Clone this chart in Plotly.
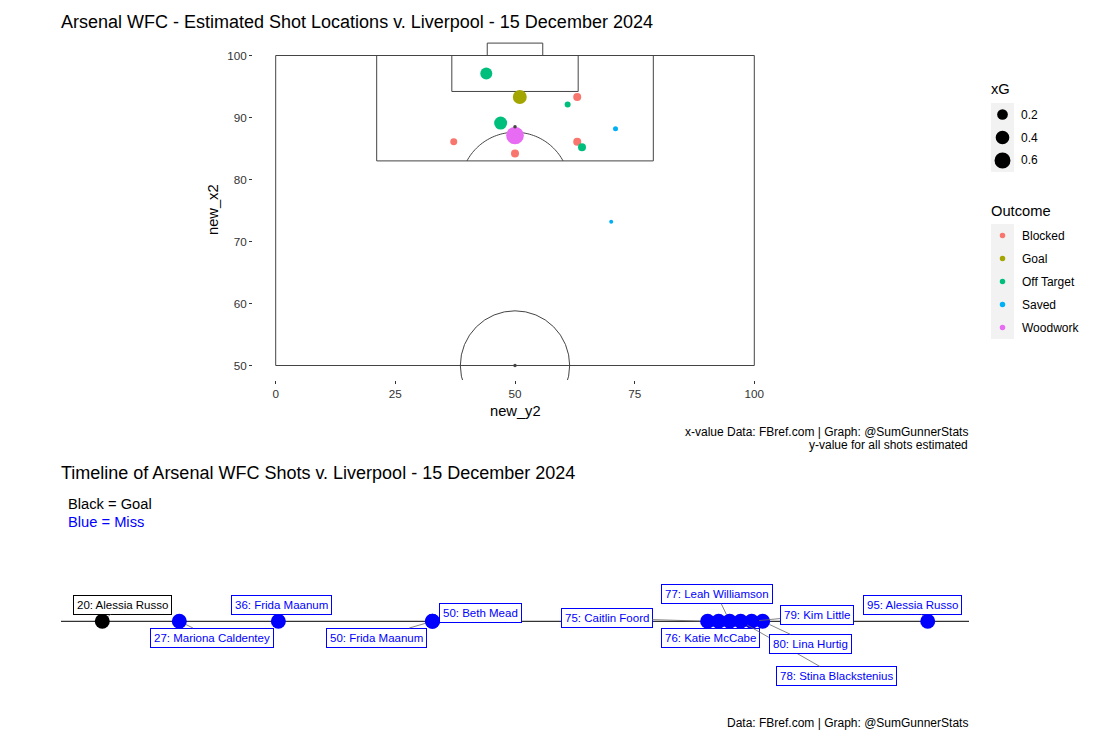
import numpy as np
import plotly.graph_objects as go

W, H = 1102, 744
FONT = "Liberation Sans"

# ---------------- data: shot map ----------------
shot_x = [44.0, 51.0, 63.0, 61.0, 47.0, 71.0, 50.0, 37.2, 63.0, 64.0, 50.0, 70.1]
shot_y = [97.1, 93.3, 93.3, 92.1, 89.1, 88.2, 87.1, 86.1, 86.1, 85.2, 84.2, 73.2]
shot_xg = [0.28, 0.42, 0.085, 0.036, 0.35, 0.024, 0.78, 0.056, 0.085, 0.085, 0.085, 0.02]
shot_outcome = ["Off Target", "Goal", "Blocked", "Off Target", "Off Target", "Saved",
                "Woodwork", "Blocked", "Blocked", "Off Target", "Blocked", "Saved"]
outcomes = ["Blocked", "Goal", "Off Target", "Saved", "Woodwork"]
outcome_colors = ["#F8766D", "#A3A500", "#00BF7D", "#00B0F6", "#E76BF3"]
xg_breaks = [0.2, 0.4, 0.6]

# ---------------- data: timeline ----------------
minutes = [20, 27, 36, 50, 50, 75, 76, 77, 78, 79, 80, 95]
players = ["Alessia Russo", "Mariona Caldentey", "Frida Maanum", "Frida Maanum", "Beth Mead",
           "Caitlin Foord", "Katie McCabe", "Leah Williamson", "Stina Blackstenius",
           "Kim Little", "Lina Hurtig", "Alessia Russo"]
results = ["Goal", "Miss", "Miss", "Miss", "Miss", "Miss", "Miss", "Miss", "Miss",
           "Miss", "Miss", "Miss"]
result_colors = {"Goal": "black", "Miss": "blue"}

# label placement (pixel offsets from each point, repel-like layout)
label_dx = [20, 33, 3, -56, 48, -101, -8, -13, 96, 65, 48, -15]
label_dy = [-16.5, 16.2, -16.8, 16.2, -8.8, -3.1, 16.5, -27.3, 54.7, -6.3, 22.5, -16.5]


def px_x(p):
    return p / W


def px_y(p):
    return 1 - p / H


def xg_size(v):
    return 4 + 15.7 * np.sqrt(max(v - 0.02, 0.0))


fig = go.Figure()

# ---------------- shot map traces ----------------
for oc, col in zip(outcomes, outcome_colors):
    idx = [i for i, o in enumerate(shot_outcome) if o == oc]
    fig.add_trace(go.Scatter(
        x=[shot_x[i] for i in idx], y=[shot_y[i] for i in idx],
        mode="markers", name=oc, showlegend=False,
        marker=dict(color=col, size=[xg_size(shot_xg[i]) for i in idx], opacity=1,
                    line=dict(width=0)),
        xaxis="x", yaxis="y", hoverinfo="x+y+name"))

# pitch spots
fig.add_trace(go.Scatter(x=[50, 50], y=[88.5, 50], mode="markers", showlegend=False,
                         marker=dict(color="#444444", size=3.5, opacity=1), xaxis="x", yaxis="y",
                         hoverinfo="skip"))

LC = "#444444"
shapes = []
# pitch outline & boxes
for (x0, x1, y0, y1) in [(0, 100, 50, 100), (21.1, 78.9, 83, 100),
                         (36.8, 63.2, 94.2, 100), (44.2, 55.8, 100, 102)]:
    shapes.append(dict(type="rect", xref="x", yref="y", x0=x0, x1=x1, y0=y0, y1=y1,
                       line=dict(color=LC, width=1), fillcolor="rgba(0,0,0,0)", layer="below"))
# centre circle (round on screen)
rx, ry = 11.42, 8.82
shapes.append(dict(type="circle", xref="x", yref="y", x0=50 - rx, x1=50 + rx,
                   y0=50 - ry, y1=50 + ry, line=dict(color=LC, width=1), layer="below"))
# penalty arc
arc_cy = 78.8
th0 = np.arcsin((83 - arc_cy) / ry)
th = np.linspace(th0, np.pi - th0, 60)
ax_ = 50 + rx * np.cos(th)
ay_ = arc_cy + ry * np.sin(th)
path = "M " + " L ".join(f"{a:.3f},{b:.3f}" for a, b in zip(ax_, ay_))
shapes.append(dict(type="path", xref="x", yref="y", path=path,
                   line=dict(color=LC, width=1), layer="below"))

# ---------------- timeline ----------------
for res in ["Goal", "Miss"]:
    idx = [i for i, r in enumerate(results) if r == res]
    fig.add_trace(go.Scatter(
        x=[minutes[i] for i in idx], y=[0] * len(idx), mode="markers", showlegend=False,
        marker=dict(color=result_colors[res], size=15, opacity=1, line=dict(width=0)),
        xaxis="x2", yaxis="y2", text=[players[i] for i in idx], hoverinfo="x+text"))

shapes.append(dict(type="line", xref="x2 domain", yref="y2", x0=0, x1=1, y0=0, y1=0,
                   line=dict(color="black", width=1), layer="below"))

annotations = []
for i, (m, p, r) in enumerate(zip(minutes, players, results)):
    col = result_colors[r]
    annotations.append(dict(
        x=m, y=0, xref="x2", yref="y2", text=f"{m}: {p}", showarrow=True,
        ax=label_dx[i], ay=label_dy[i], axref="pixel", ayref="pixel",
        arrowhead=0, arrowwidth=0.8, arrowcolor="#666666", standoff=7.5,
        bgcolor="white", bordercolor=col, borderwidth=1, borderpad=3,
        font=dict(family=FONT, size=11.5, color=col)))

# ---------------- manual legends ----------------
LEG_X0, LEG_X1 = 991, 1014
annotations.append(dict(x=px_x(989), y=px_y(89), xref="paper", yref="paper", text="xG",
                        showarrow=False, xanchor="left", yanchor="middle",
                        font=dict(family=FONT, size=14.7, color="black")))
shapes.append(dict(type="rect", xref="paper", yref="paper", x0=px_x(LEG_X0), x1=px_x(LEG_X1),
                   y0=px_y(103), y1=px_y(172), fillcolor="#F2F2F2", line=dict(width=0),
                   layer="below"))
for k, v in enumerate(xg_breaks):
    cy = 114.5 + 23 * k
    d = xg_size(v)
    cx = (LEG_X0 + LEG_X1) / 2
    shapes.append(dict(type="circle", xref="paper", yref="paper",
                       x0=px_x(cx - d / 2), x1=px_x(cx + d / 2),
                       y0=px_y(cy + d / 2), y1=px_y(cy - d / 2),
                       fillcolor="black", line=dict(width=0)))
    annotations.append(dict(x=px_x(1019), y=px_y(cy), xref="paper", yref="paper", text=f"{v}",
                            showarrow=False, xanchor="left", yanchor="middle",
                            font=dict(family=FONT, size=12, color="black")))

annotations.append(dict(x=px_x(989), y=px_y(211), xref="paper", yref="paper", text="Outcome",
                        showarrow=False, xanchor="left", yanchor="middle",
                        font=dict(family=FONT, size=14.7, color="black")))
shapes.append(dict(type="rect", xref="paper", yref="paper", x0=px_x(LEG_X0), x1=px_x(LEG_X1),
                   y0=px_y(224), y1=px_y(339), fillcolor="#F2F2F2", line=dict(width=0),
                   layer="below"))
for k, (oc, col) in enumerate(zip(outcomes, outcome_colors)):
    cy = 235.5 + 23 * k
    d = 5.5
    cx = (LEG_X0 + LEG_X1) / 2
    shapes.append(dict(type="circle", xref="paper", yref="paper",
                       x0=px_x(cx - d / 2), x1=px_x(cx + d / 2),
                       y0=px_y(cy + d / 2), y1=px_y(cy - d / 2),
                       fillcolor=col, line=dict(width=0)))
    annotations.append(dict(x=px_x(1020), y=px_y(cy), xref="paper", yref="paper", text=oc,
                            showarrow=False, xanchor="left", yanchor="middle",
                            font=dict(family=FONT, size=12, color="black")))

# ---------------- titles & captions ----------------
def txt(text, x, y, size, color="black", xanchor="left", angle=0):
    annotations.append(dict(x=px_x(x), y=px_y(y), xref="paper", yref="paper", text=text,
                            showarrow=False, xanchor=xanchor, yanchor="middle",
                            textangle=angle, font=dict(family=FONT, size=size, color=color)))


txt("Arsenal WFC - Estimated Shot Locations v. Liverpool - 15 December 2024", 59, 22, 18)
txt("new_y2", 515, 411, 14.7, xanchor="center")
txt("new_x2", 213, 210, 14.7, xanchor="center", angle=-90)
txt("x-value Data: FBref.com | Graph: @SumGunnerStats", 970, 431.5, 12, xanchor="right")
txt("y-value for all shots estimated", 970, 445, 12, xanchor="right")
txt("Timeline of Arsenal WFC Shots v. Liverpool - 15 December 2024", 59, 472.5, 18)
txt("Black = Goal", 66, 503.5, 14.7)
txt("Blue = Miss", 66, 521.5, 14.7, color="blue")
txt("Data: FBref.com | Graph: @SumGunnerStats", 970, 722.5, 12, xanchor="right")

# ---------------- axes ----------------
px_per_x = (754.3 - 275.7) / 100
px_per_y = (365.5 - 55.5) / 50
x_left_px, x_right_px = 253, 777
y_top_px, y_bot_px = 40, 380

xr = [(x_left_px - 275.7) / px_per_x, (x_right_px - 275.7) / px_per_x]
yr = [50 - (y_bot_px - 365.5) / px_per_y, 100 + (55.5 - y_top_px) / px_per_y]

tl_x0, tl_x1 = 61, 969
tl_line = 621.3

fig.update_layout(
    width=W, height=H, autosize=False,
    margin=dict(l=0, r=0, t=0, b=0),
    paper_bgcolor="white", plot_bgcolor="white",
    font=dict(family=FONT, color="black"),
    showlegend=False,
    xaxis=dict(domain=[px_x(x_left_px), px_x(x_right_px)], range=xr,
               tickvals=[0, 25, 50, 75, 100], showgrid=False, zeroline=False, showline=False,
               ticks="outside", ticklen=3, tickcolor="#333333", tickwidth=1,
               tickfont=dict(family=FONT, size=11.7, color="#333333"), anchor="y"),
    yaxis=dict(domain=[px_y(y_bot_px), px_y(y_top_px)], range=yr,
               tickvals=[50, 60, 70, 80, 90, 100], showgrid=False, zeroline=False,
               showline=False, ticks="outside", ticklen=3, tickcolor="#333333", tickwidth=1,
               tickfont=dict(family=FONT, size=11.7, color="#333333"), anchor="x"),
    xaxis2=dict(domain=[px_x(tl_x0), px_x(tl_x1)], range=[16.25, 98.75], visible=False,
                anchor="y2"),
    yaxis2=dict(domain=[px_y(tl_line + 60), px_y(tl_line - 60)], range=[-1, 1],
                visible=False, anchor="x2"),
    shapes=shapes,
    annotations=annotations,
)

fig.write_html("out.html")
